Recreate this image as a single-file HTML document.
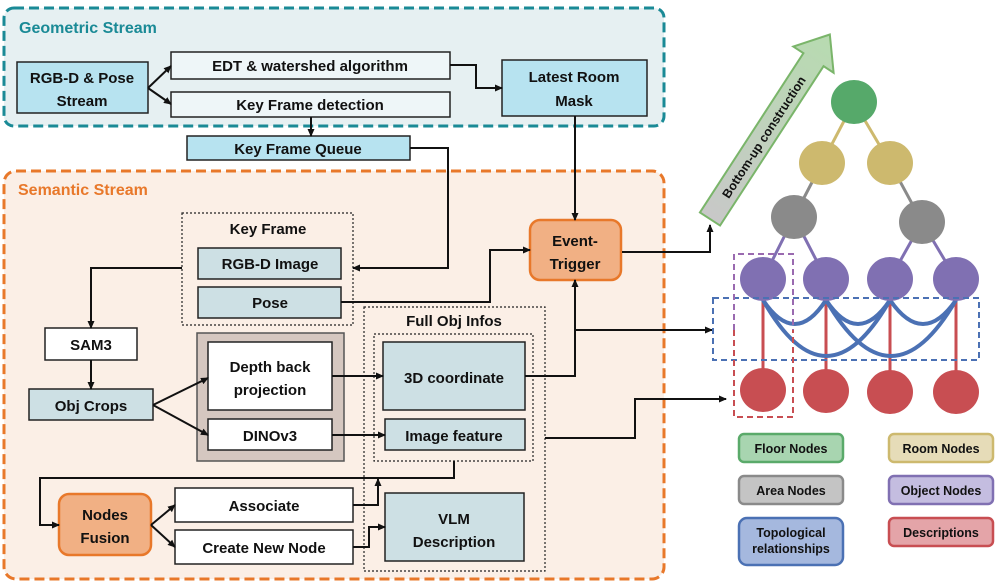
<!DOCTYPE html>
<html><head><meta charset="utf-8"><style>
html,body{margin:0;padding:0;background:#fff;}
svg{display:block;}
text{font-family:"Liberation Sans",sans-serif;font-weight:bold;}
</style></head><body>
<svg width="997" height="584" viewBox="0 0 997 584" xmlns="http://www.w3.org/2000/svg">
<defs>
<marker id="a" markerWidth="8" markerHeight="8" refX="7" refY="4" orient="auto" markerUnits="userSpaceOnUse"><path d="M0,0.5 L8,4 L0,7.5 z" fill="#111"/></marker>
<linearGradient id="g" x1="0" x2="1"><stop offset="0" stop-color="#c8c8c8"/><stop offset="1" stop-color="#b7dbb0"/></linearGradient>
</defs>
<!-- Geometric stream -->
<rect x="4" y="8" width="660" height="118" rx="10" fill="#e6f0f2" stroke="#1a8a96" stroke-width="3" stroke-dasharray="10,5"/>
<text x="19" y="33" font-size="16" fill="#1a8a96">Geometric Stream</text>
<!-- Semantic stream -->
<rect x="4" y="171" width="660" height="408" rx="12" fill="#fbefe6" stroke="#e8782a" stroke-width="3" stroke-dasharray="10,5"/>
<text x="18" y="195" font-size="16" fill="#e8782a">Semantic Stream</text>

<g stroke="#222" stroke-width="1.5">
<rect x="17" y="62" width="131" height="51" fill="#b7e3f0"/>
<rect x="171" y="52" width="279" height="27" fill="#eef6f8"/>
<rect x="171" y="92" width="279" height="25" fill="#eef6f8"/>
<rect x="502" y="60" width="145" height="56" fill="#b7e3f0"/>
<rect x="187" y="136" width="223" height="24" fill="#b7e3f0"/>
</g>
<g font-size="15" text-anchor="middle" fill="#111">
<text x="82" y="83">RGB-D &amp; Pose</text><text x="82" y="106">Stream</text>
<text x="310" y="71">EDT &amp; watershed algorithm</text>
<text x="310" y="110">Key Frame detection</text>
<text x="574" y="82">Latest Room</text><text x="574" y="106">Mask</text>
<text x="298" y="154">Key Frame Queue</text>
</g>

<rect x="182" y="213" width="171" height="112" fill="none" stroke="#222" stroke-width="1.2" stroke-dasharray="2,2"/>
<rect x="364" y="307" width="181" height="264" fill="none" stroke="#222" stroke-width="1.2" stroke-dasharray="2,2"/>
<rect x="374" y="334" width="159" height="127" fill="none" stroke="#222" stroke-width="1.2" stroke-dasharray="2,2"/>
<rect x="197" y="333" width="147" height="128" fill="#d5c7c0" stroke="#555" stroke-width="1.5"/>
<g stroke="#222" stroke-width="1.5">
<rect x="198" y="248" width="143" height="31" fill="#cde0e4"/>
<rect x="198" y="287" width="143" height="31" fill="#cde0e4"/>
<rect x="45" y="328" width="92" height="32" fill="#fff"/>
<rect x="29" y="389" width="124" height="31" fill="#cde0e4"/>
<rect x="208" y="342" width="124" height="68" fill="#fff"/>
<rect x="208" y="419" width="124" height="31" fill="#fff"/>
<rect x="383" y="342" width="142" height="68" fill="#cde0e4"/>
<rect x="385" y="419" width="140" height="31" fill="#cde0e4"/>
<rect x="385" y="493" width="139" height="68" fill="#cde0e4"/>
<rect x="175" y="488" width="178" height="34" fill="#fff"/>
<rect x="175" y="530" width="178" height="34" fill="#fff"/>
</g>
<rect x="530" y="220" width="91" height="60" rx="10" fill="#f1b084" stroke="#e8782a" stroke-width="2.5"/>
<rect x="59" y="494" width="92" height="61" rx="10" fill="#f1b084" stroke="#e8782a" stroke-width="2.5"/>
<g font-size="15" text-anchor="middle" fill="#111">
<text x="268" y="234">Key Frame</text>
<text x="270" y="269">RGB-D Image</text>
<text x="270" y="308">Pose</text>
<text x="91" y="350">SAM3</text>
<text x="91" y="411">Obj Crops</text>
<text x="270" y="372">Depth back</text><text x="270" y="395">projection</text>
<text x="270" y="441">DINOv3</text>
<text x="454" y="326">Full Obj Infos</text>
<text x="454" y="383">3D coordinate</text>
<text x="454" y="441">Image feature</text>
<text x="454" y="524">VLM</text><text x="454" y="547">Description</text>
<text x="264" y="511">Associate</text>
<text x="264" y="553">Create New Node</text>
<text x="575" y="246">Event-</text><text x="575" y="269">Trigger</text>
<text x="105" y="520">Nodes</text><text x="105" y="543">Fusion</text>
</g>

<g stroke="#111" stroke-width="2" fill="none" marker-end="url(#a)">
<path d="M148,88 L171,66"/>
<path d="M148,88 L171,104"/>
<path d="M450,65 L476,65 L476,88 L502,88"/>
<path d="M311,117 L311,136"/>
<path d="M410,148 L448,148 L448,268 L353,268"/>
<path d="M575,116 L575,220"/>
<path d="M341,302 L490,302 L490,250 L530,250"/>
<path d="M182,268 L91,268 L91,328"/>
<path d="M91,360 L91,389"/>
<path d="M153,405 L208,378"/>
<path d="M153,405 L208,435"/>
<path d="M332,376 L383,376"/>
<path d="M332,435 L385,435"/>
<path d="M525,376 L575,376 L575,280"/>
<path d="M575,330 L712,330"/>
<path d="M545,438 L635,438 L635,399 L726,399"/>
<path d="M454,461 L454,478 L40,478 L40,525 L59,525"/>
<path d="M151,525 L175,505"/>
<path d="M151,525 L175,547"/>
<path d="M353,505 L378,505 L378,479"/>
<path d="M353,547 L369,547 L369,527 L385,527"/>
<path d="M622,252 L710,252 L710,225"/>
</g>

<g transform="translate(710,219) rotate(-57)">
<path d="M0,-12 L190,-12 L190,-24 L220,0 L190,24 L190,12 L0,12 Z" fill="url(#g)" stroke="#7ab56a" stroke-width="2"/>
<text x="98" y="5" font-size="12.5" text-anchor="middle" fill="#111">Bottom-up construction</text>
</g>

<g stroke-width="3" fill="none">
<path d="M854,102 L822,163 M854,102 L890,163" stroke="#cdb96e"/>
<path d="M822,163 L794,217 M890,163 L922,222" stroke="#8a8a8a"/>
<path d="M794,217 L763,279 M794,217 L826,279 M922,222 L890,279 M922,222 L956,279" stroke="#8070b2"/>
<path d="M763,279 L763,390 M826,279 L826,390 M890,279 L890,390 M956,279 L956,390" stroke="#c84e52"/>
</g>
<g stroke="#4b71b4" stroke-width="4" fill="none">
<path d="M763,300 Q795,348 826,300"/>
<path d="M826,300 Q858,348 890,300"/>
<path d="M890,300 Q923,348 956,300"/>
<path d="M763,300 Q826,412 890,300"/>
<path d="M826,300 Q891,412 956,300"/>
</g>
<g>
<ellipse cx="854" cy="102" rx="23" ry="22" fill="#56a96a"/>
<ellipse cx="822" cy="163" rx="23" ry="22" fill="#cdb96e"/>
<ellipse cx="890" cy="163" rx="23" ry="22" fill="#cdb96e"/>
<ellipse cx="794" cy="217" rx="23" ry="22" fill="#8a8a8a"/>
<ellipse cx="922" cy="222" rx="23" ry="22" fill="#8a8a8a"/>
<ellipse cx="763" cy="279" rx="23" ry="22" fill="#8070b2"/>
<ellipse cx="826" cy="279" rx="23" ry="22" fill="#8070b2"/>
<ellipse cx="890" cy="279" rx="23" ry="22" fill="#8070b2"/>
<ellipse cx="956" cy="279" rx="23" ry="22" fill="#8070b2"/>
<ellipse cx="763" cy="390" rx="23" ry="22" fill="#c84e52"/>
<ellipse cx="826" cy="391" rx="23" ry="22" fill="#c84e52"/>
<ellipse cx="890" cy="392" rx="23" ry="22" fill="#c84e52"/>
<ellipse cx="956" cy="392" rx="23" ry="22" fill="#c84e52"/>
</g>
<rect x="713" y="298" width="266" height="62" fill="none" stroke="#4b71b4" stroke-width="2" stroke-dasharray="6,4"/>
<path d="M734,330 L734,254 L793,254 L793,330" fill="none" stroke="#9a6ab0" stroke-width="2" stroke-dasharray="6,4"/>
<path d="M734,330 L734,417 L793,417 L793,330" fill="none" stroke="#c84e52" stroke-width="2" stroke-dasharray="6,4"/>

<g stroke-width="2.5">
<rect x="739" y="434" width="104" height="28" rx="5" fill="#a8d5b0" stroke="#5aaa6a"/>
<rect x="889" y="434" width="104" height="28" rx="5" fill="#e6dcb8" stroke="#cdb96e"/>
<rect x="739" y="476" width="104" height="28" rx="5" fill="#c4c4c4" stroke="#8a8a8a"/>
<rect x="889" y="476" width="104" height="28" rx="5" fill="#c4bde0" stroke="#8070b2"/>
<rect x="739" y="518" width="104" height="47" rx="8" fill="#a5b8de" stroke="#4b71b4"/>
<rect x="889" y="518" width="104" height="28" rx="5" fill="#e4a4a8" stroke="#c84e52"/>
</g>
<g font-size="12.5" text-anchor="middle" fill="#111">
<text x="791" y="453">Floor Nodes</text>
<text x="941" y="453">Room Nodes</text>
<text x="791" y="495">Area Nodes</text>
<text x="941" y="495">Object Nodes</text>
<text x="791" y="537">Topological</text><text x="791" y="553">relationships</text>
<text x="941" y="537">Descriptions</text>
</g>
</svg>
</body></html>
